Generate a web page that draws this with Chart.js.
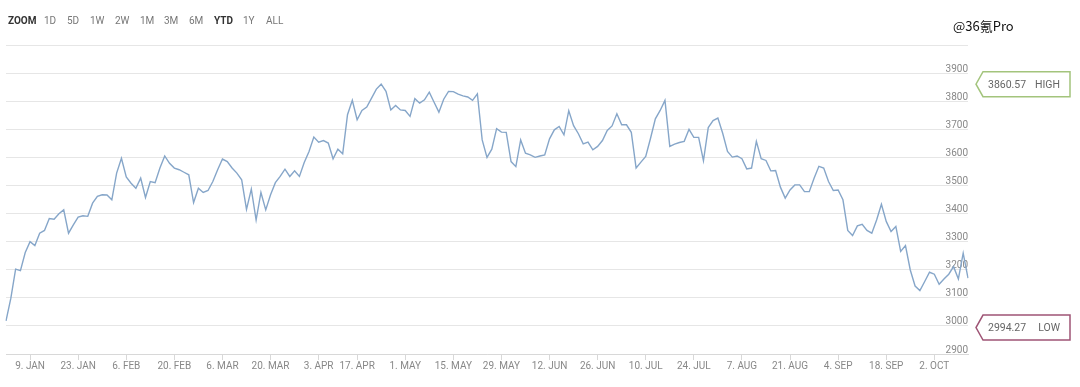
<!DOCTYPE html>
<html>
<head>
<meta charset="utf-8">
<title>YTD</title>
<script src="https://cdn.jsdelivr.net/npm/chart.js@4.4.0/dist/chart.umd.min.js"></script>
<style>
    html, body { margin: 0; padding: 0; background: #fff; }
    #wrap { position: relative; width: 1080px; height: 387px; overflow: hidden; }
    #chart { position: absolute; left: 0; top: 0; }
    .btn { position: absolute; top: 15px; font: 10px "Liberation Sans Narrow", Roboto, sans-serif; color: #777; white-space: nowrap; }
    .btn.on { font-weight: bold; color: #333; }
    #mark { position: absolute; left: 953px; top: 16px; font: 13px "Noto Sans CJK SC", sans-serif; color: #111; }
</style>
</head>
<body>
<div id="wrap">
    <canvas id="chart" width="1080" height="387"></canvas>
    <div id="buttons"></div>
    <div id="mark">@36氪Pro</div>
</div>
<script>

// daily closes, one per trading day
var closeValues = [
    3018, 3098, 3202, 3197, 3261, 3300, 3286, 3330, 3340, 3382,
    3380, 3399, 3413, 3330, 3360, 3387, 3392, 3390, 3437, 3461,
    3467, 3466, 3449, 3544, 3597, 3530, 3508, 3490, 3526, 3457,
    3514, 3510, 3562, 3605, 3579, 3562, 3556, 3547, 3538, 3439,
    3490, 3475, 3482, 3514, 3556, 3594, 3585, 3562, 3544, 3520,
    3415, 3487, 3377, 3475, 3413, 3467, 3510, 3532, 3558, 3532,
    3552, 3532, 3582, 3621, 3672, 3654, 3660, 3651, 3595, 3629,
    3613, 3752, 3803, 3734, 3767, 3779, 3811, 3843, 3860.57, 3835,
    3769, 3785, 3769, 3767, 3746, 3809, 3793, 3805, 3832, 3796,
    3761, 3807, 3835, 3834, 3825, 3819, 3815, 3803, 3826, 3662,
    3600, 3629, 3702, 3690, 3689, 3585, 3567, 3662, 3615, 3609,
    3600, 3605, 3609, 3666, 3698, 3710, 3680, 3766, 3713, 3684,
    3648, 3654, 3627, 3639, 3660, 3696, 3712, 3755, 3716, 3716,
    3689, 3562, 3583, 3603, 3668, 3737, 3767, 3803, 3639, 3647,
    3653, 3657, 3700, 3671, 3671, 3588, 3706, 3731, 3740, 3686,
    3621, 3601, 3605, 3595, 3559, 3562, 3657, 3595, 3589, 3552,
    3553, 3494, 3455, 3484, 3502, 3502, 3478, 3478, 3526, 3568,
    3562, 3514, 3482, 3484, 3449, 3340, 3322, 3356, 3362, 3340,
    3330, 3377, 3433, 3372, 3336, 3354, 3265, 3286, 3199, 3142,
    3126, 3158, 3191, 3184, 3148, 3167, 3184, 3211, 3167, 3259,
    3170
];

// x axis labels and the trading day they sit on
var tickIndex = [5, 15, 25, 35, 45, 55, 65, 73, 83, 93, 103, 113, 123, 133, 143, 153, 163, 173, 183, 193];
var tickText = ['9. JAN', '23. JAN', '6. FEB', '20. FEB', '6. MAR', '20. MAR', '3. APR', '17. APR', '1. MAY',
    '15. MAY', '29. MAY', '12. JUN', '26. JUN', '10. JUL', '24. JUL', '7. AUG', '21. AUG', '4. SEP', '18. SEP', '2. OCT'];

var highValue = 3860.57;
var lowValue = 2994.27;

// range selector row
var buttonText = ['ZOOM', '1D', '5D', '1W', '2W', '1M', '3M', '6M', 'YTD', '1Y', 'ALL'];
var buttonLeft = [8, 44, 67, 90, 115, 140, 164, 189, 214, 243, 266];

var btnBox = document.getElementById('buttons');
buttonText.forEach(function (t, i) {
    var s = document.createElement('span');
    s.className = 'btn' + (t == 'ZOOM' || t == 'YTD' ? ' on' : '');
    s.style.left = buttonLeft[i] + 'px';
    s.textContent = t;
    btnBox.appendChild(s);
});

var labels = closeValues.map(function (v, i) {
    var k = tickIndex.indexOf(i);
    return k >= 0 ? tickText[k] : '';
});

var axisFont = { family: '"Liberation Sans Narrow", Roboto, sans-serif', size: 10 };

// callout boxes for high / low on the right
function drawCallout(ctx, y, valueText, name, color) {
    var tip = 976, left = 983, right = 1070, h = 12.5;
    ctx.save();
    ctx.beginPath();
    ctx.moveTo(left, y - h);
    ctx.lineTo(right, y - h);
    ctx.lineTo(right, y + h);
    ctx.lineTo(left, y + h);
    ctx.lineTo(tip, y);
    ctx.closePath();
    ctx.fillStyle = '#fff';
    ctx.fill();
    ctx.lineWidth = 1.5;
    ctx.strokeStyle = color;
    ctx.stroke();
    ctx.font = '10.5px "Liberation Sans Narrow", Roboto, sans-serif';
    ctx.fillStyle = '#666';
    ctx.textBaseline = 'middle';
    ctx.textAlign = 'left';
    ctx.fillText(valueText, 988, y + 1);
    ctx.textAlign = 'right';
    ctx.fillText(name, 1060, y + 1);
    ctx.restore();
}

var hiLoPlugin = {
    id: 'hiLo',
    afterDraw: function (chart) {
        var y = chart.scales.y;
        drawCallout(chart.ctx, y.getPixelForValue(highValue), highValue.toFixed(2), 'HIGH', '#a3c47c');
        drawCallout(chart.ctx, y.getPixelForValue(lowValue), lowValue.toFixed(2), 'LOW', '#9e5475');
    }
};

var ctx = document.getElementById('chart').getContext('2d');
var myChart = new Chart(ctx, {
    type: 'line',
    data: {
        labels: labels,
        datasets: [{
            data: closeValues,
            borderColor: '#86a6c9',
            borderWidth: 1.4,
            pointRadius: 0,
            tension: 0,
            fill: false
        }]
    },
    options: {
        responsive: false,
        animation: false,
        devicePixelRatio: 1,
        layout: { padding: { left: 6, right: 112, top: 45, bottom: 15 } },
        plugins: { legend: { display: false }, tooltip: { enabled: false } },
        scales: {
            x: {
                type: 'category',
                offset: false,
                afterBuildTicks: function (scale) {
                    scale.ticks = tickIndex.map(function (v) { return { value: v }; });
                },
                grid: { drawOnChartArea: false, drawTicks: true, tickLength: 6, color: '#d8d8d8' },
                border: { display: true, color: '#d8d8d8' },
                ticks: { autoSkip: false, maxRotation: 0, padding: 0, color: '#888', font: axisFont }
            },
            y: {
                position: 'right',
                min: 2900,
                max: 4000,
                grid: { color: '#e6e6e6', drawTicks: false },
                border: { display: false },
                ticks: {
                    stepSize: 100,
                    mirror: true,
                    padding: 0,
                    labelOffset: -4,
                    color: '#888',
                    font: axisFont,
                    callback: function (v) { return v == 4000 ? '' : v; }
                }
            }
        }
    },
    plugins: [hiLoPlugin]
});

</script>
</body>
</html>
